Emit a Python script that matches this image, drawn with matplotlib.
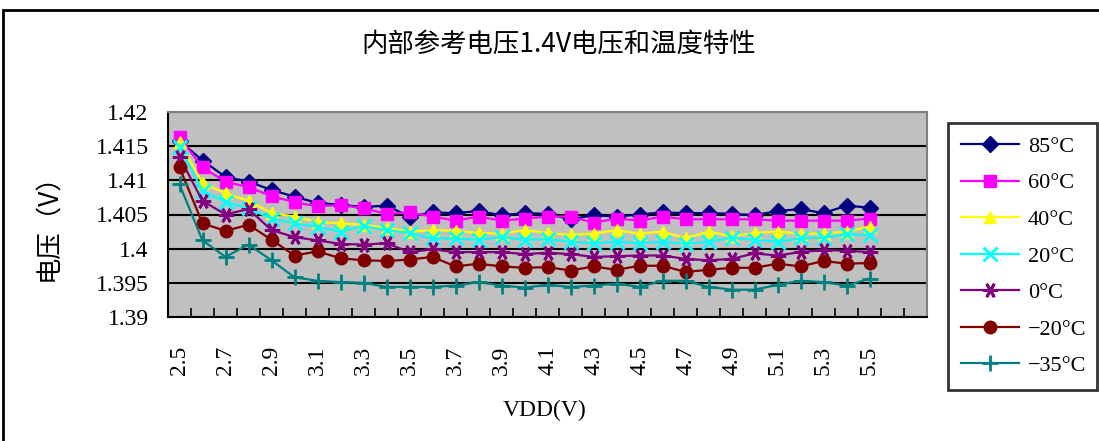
import matplotlib
matplotlib.use("Agg")
import matplotlib.pyplot as plt
from matplotlib.patches import Rectangle
from matplotlib.ticker import FixedLocator

vdd = ["2.5", "2.6", "2.7", "2.8", "2.9", "3.0", "3.1", "3.2", "3.3", "3.4", "3.5",
       "3.6", "3.7", "3.8", "3.9", "4.0", "4.1", "4.2", "4.3", "4.4", "4.5",
       "4.6", "4.7", "4.8", "4.9", "5.0", "5.1", "5.2", "5.3", "5.4", "5.5"]
n_slots = 33  # category slots on the axis (two empty ones after 5.5)

t85 = [1.4158, 1.4129, 1.4105, 1.4098, 1.4086, 1.4076, 1.4067, 1.4064, 1.4061, 1.4063,
       1.4047, 1.4053, 1.4052, 1.4055, 1.4049, 1.4052, 1.4051, 1.4043, 1.4049, 1.4047,
       1.4050, 1.4053, 1.4052, 1.4052, 1.4051, 1.4049, 1.4055, 1.4058, 1.4052, 1.4063, 1.4060]
t60 = [1.4163, 1.4119, 1.4098, 1.4090, 1.4077, 1.4068, 1.4062, 1.4064, 1.4059, 1.4051,
       1.4053, 1.4047, 1.4041, 1.4047, 1.4041, 1.4044, 1.4047, 1.4047, 1.4038, 1.4044,
       1.4041, 1.4047, 1.4043, 1.4043, 1.4043, 1.4043, 1.4041, 1.4041, 1.4041, 1.4041, 1.4044]
t40 = [1.4156, 1.4096, 1.4081, 1.4070, 1.4052, 1.4047, 1.4039, 1.4037, 1.4035, 1.4030,
       1.4025, 1.4027, 1.4026, 1.4023, 1.4022, 1.4027, 1.4023, 1.4020, 1.4022, 1.4027,
       1.4022, 1.4025, 1.4015, 1.4025, 1.4018, 1.4023, 1.4025, 1.4022, 1.4022, 1.4025, 1.4032]
t20 = [1.4149, 1.4085, 1.4068, 1.4059, 1.4044, 1.4037, 1.4032, 1.4025, 1.4033, 1.4027,
       1.4023, 1.4015, 1.4015, 1.4013, 1.4017, 1.4013, 1.4014, 1.4010, 1.4008, 1.4010,
       1.4008, 1.4010, 1.4007, 1.4010, 1.4016, 1.4013, 1.4010, 1.4015, 1.4016, 1.4021, 1.4020]
t0 = [1.4134, 1.4070, 1.4050, 1.4058, 1.4027, 1.4017, 1.4012, 1.4007, 1.4006, 1.4008,
      1.3995, 1.3999, 1.3995, 1.3995, 1.3995, 1.3992, 1.3994, 1.3992, 1.3988, 1.3989,
      1.3990, 1.3990, 1.3985, 1.3983, 1.3985, 1.3993, 1.3990, 1.3995, 1.3998, 1.3997, 1.3995]
tm20 = [1.4119, 1.4037, 1.4026, 1.4035, 1.4013, 1.3990, 1.3996, 1.3986, 1.3983, 1.3982,
        1.3984, 1.3988, 1.3974, 1.3978, 1.3974, 1.3972, 1.3973, 1.3968, 1.3974, 1.3969,
        1.3975, 1.3975, 1.3966, 1.3969, 1.3972, 1.3972, 1.3978, 1.3974, 1.3982, 1.3978, 1.3979]
tm35 = [1.4094, 1.4012, 1.3988, 1.4006, 1.3983, 1.3958, 1.3953, 1.3951, 1.3950, 1.3944,
        1.3944, 1.3944, 1.3946, 1.3951, 1.3946, 1.3943, 1.3947, 1.3944, 1.3946, 1.3949,
        1.3944, 1.3953, 1.3953, 1.3944, 1.3940, 1.3940, 1.3947, 1.3953, 1.3951, 1.3946, 1.3956]

labels = ["85°C", "60°C", "40°C", "20°C", "0°C", "−20°C", "−35°C"]
series = [t85, t60, t40, t20, t0, tm20, tm35]
colors = ["#000080", "#FF00FF", "#FFFF00", "#00FFFF", "#800080", "#800000", "#008080"]
markers = ["D", "s", "^", "x", (6, 2, 90), "o", "+"]
msizes = [8, 9, 9, 10, 11, 9, 12]

yticks = [1.39, 1.395, 1.40, 1.405, 1.41, 1.415, 1.42]
yticklabels = ["1.39", "1.395", "1.4", "1.405", "1.41", "1.415", "1.42"]

title = "内部参考电压1.4V电压和温度特性"
ylabel = "电压（V）"
xlabel = "VDD(V)"

serif = ["Liberation Serif", "DejaVu Serif"]
cjk = ["Noto Sans CJK SC", "DejaVu Sans"]

fig = plt.figure(figsize=(10.99, 4.41), dpi=100)
fig.patch.set_facecolor("white")
W, H = 1099, 441

# outer frame
fig.patches.append(Rectangle((3 / W, -0.02), (W + 10) / W, (H - 10) / H + 0.02,
                             transform=fig.transFigure, fill=False,
                             edgecolor="black", linewidth=2.0))

ax = fig.add_axes([168 / W, (H - 317) / H, 759 / W, 205 / H])
ax.set_facecolor("#C0C0C0")

x = list(range(len(vdd)))
for vals, lab, c, m, ms in zip(series, labels, colors, markers, msizes):
    mew = 2.0 if m in ("x", "+") or isinstance(m, tuple) else 1.0
    ax.plot(x, vals, color=c, linewidth=1.6, marker=m, markersize=ms,
            markerfacecolor=c, markeredgecolor=c, markeredgewidth=mew, label=lab,
            clip_on=False)

ax.set_xlim(-0.5, n_slots - 0.5)
ax.set_ylim(1.39, 1.42)
ax.set_yticks(yticks)
ax.set_yticklabels(yticklabels, fontfamily=serif, fontsize=17)
ax.yaxis.grid(True, color="black", linewidth=1.5)
ax.set_axisbelow(True)

ax.xaxis.set_major_locator(FixedLocator(x[::2]))
ax.set_xticklabels(vdd[::2], rotation=90, fontfamily=serif, fontsize=17, va="center")
ax.xaxis.set_minor_locator(FixedLocator([i + 0.5 for i in range(-1, n_slots)]))
ax.tick_params(axis="x", which="major", length=0, pad=31)
ax.tick_params(axis="x", which="minor", direction="in", length=6.5, width=1.2, color="black")
ax.tick_params(axis="y", which="major", direction="in", length=5, width=1.2, pad=14)

for side in ("top", "right"):
    ax.spines[side].set_color("#808080")
    ax.spines[side].set_linewidth(1.5)
for side in ("left", "bottom"):
    ax.spines[side].set_color("black")
    ax.spines[side].set_linewidth(1.5)

fig.text(545 / W, (H - 410) / H, xlabel, ha="center", va="center",
         fontfamily=serif, fontsize=17)
fig.text(49 / W, (H - 221) / H, ylabel, ha="center", va="center", rotation=90,
         fontfamily=cjk, fontsize=19)
fig.text(559 / W, (H - 44) / H, title, ha="center", va="center",
         fontfamily=cjk, fontsize=19)

leg = ax.legend(loc="upper left",
                bbox_to_anchor=(948 / W, (H - 400) / H, 149 / W, 277 / H),
                bbox_transform=fig.transFigure, mode="expand",
                prop={"family": serif, "size": 16},
                frameon=True, fancybox=False, borderaxespad=0, handlelength=2.6,
                labelspacing=0.72, borderpad=0.6, handletextpad=0.4)
leg.get_frame().set_edgecolor("black")
leg.get_frame().set_linewidth(2.0)

fig.savefig("out.png", dpi=100, facecolor="white")
